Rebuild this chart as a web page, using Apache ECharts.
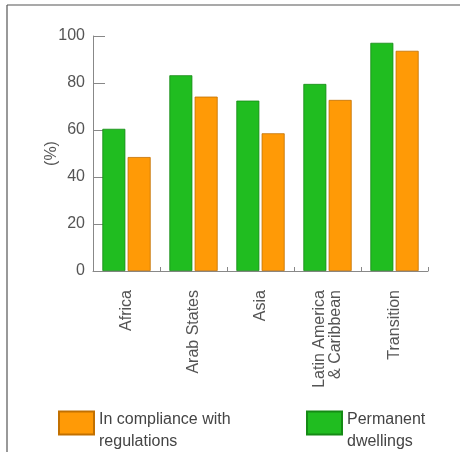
<!DOCTYPE html>
<html>
<head>
<meta charset="utf-8">
<script src="https://cdn.jsdelivr.net/npm/echarts@6/dist/echarts.min.js"></script>
<style>
  html, body { margin: 0; padding: 0; background: #fff; }
  #chart { width: 460px; height: 452px; }
</style>
</head>
<body>
<div id="chart"></div>
<script>
// Regions shown along the x axis
const categories = ['Africa', 'Arab States', 'Asia', 'Latin America\n& Caribbean', 'Transition'];
// Share of permanent dwellings (%)
const permanentDwellings = [60.5, 83.3, 72.5, 79.6, 97.1];
// Share of dwellings in compliance with regulations (%)
const inCompliance = [48.5, 74.2, 58.6, 72.8, 93.7];
// Value axis tick labels
const yTicks = [0, 20, 40, 60, 80, 100];

const GREEN = '#20bd20';
const ORANGE = '#ff9a06';
const nameGreen = 'Permanent\ndwellings';
const nameOrange = 'In compliance with\nregulations';

const chart = echarts.init(document.getElementById('chart'), null, { renderer: 'canvas' });

const labelFont = { fontFamily: 'Liberation Sans, Arial, sans-serif', fontSize: 16, color: '#555' };

// Legend text sits a little lower than its swatch: a short blank first line shifts it down
const legendBase = {
  itemWidth: 35, itemHeight: 23, itemGap: 9,
  icon: 'rect',
  formatter: name => '{s| }\n' + name.split('\n').map(l => '{t|' + l + '}').join('\n'),
  textStyle: {
    rich: {
      s: { fontSize: 8, lineHeight: 15 },
      t: Object.assign({}, labelFont, { color: '#444', lineHeight: 22 })
    }
  }
};

chart.setOption({
  animation: false,
  backgroundColor: '#fff',
  grid: { left: 93, top: 36, width: 335, height: 235, containLabel: false },
  xAxis: {
    type: 'category',
    data: categories,
    axisLine: { lineStyle: { color: '#888', width: 1 } },
    axisTick: { show: true, alignWithLabel: false, inside: true, length: 4, lineStyle: { color: '#888' } },
    axisLabel: Object.assign({ rotate: 90, margin: 19, interval: 0, lineHeight: 16 }, labelFont)
  },
  yAxis: {
    type: 'value',
    min: yTicks[0],
    max: yTicks[yTicks.length - 1],
    interval: 20,
    name: '(%)',
    nameLocation: 'middle',
    nameGap: 33,
    nameRotate: 90,
    nameMoveOverlap: false,
    nameTextStyle: labelFont,
    axisLine: { show: true, lineStyle: { color: '#888', width: 1 } },
    axisTick: { show: true, inside: true, length: 12, lineStyle: { color: '#888' } },
    splitLine: { show: false },
    axisLabel: Object.assign({ margin: 8, formatter: v => yTicks.includes(v) ? String(v) : '' }, labelFont)
  },
  legend: [
    Object.assign({ data: [nameOrange], left: 53, top: 392 }, legendBase),
    Object.assign({ data: [nameGreen], left: 301, top: 392 }, legendBase)
  ],
  series: [
    {
      name: nameGreen,
      type: 'bar',
      data: permanentDwellings,
      barWidth: 23,
      barGap: '10%',
      itemStyle: { color: GREEN, borderColor: '#158a15', borderWidth: 0.8 }
    },
    {
      name: nameOrange,
      type: 'bar',
      data: inCompliance,
      barWidth: 23,
      itemStyle: { color: ORANGE, borderColor: '#c27000', borderWidth: 0.8 }
    }
  ],
  graphic: [
    { type: 'line', shape: { x1: 7, y1: 5, x2: 460, y2: 5 }, style: { stroke: '#555', lineWidth: 1.2 } },
    { type: 'line', shape: { x1: 7, y1: 5, x2: 7, y2: 452 }, style: { stroke: '#555', lineWidth: 1.2 } }
  ]
});
</script>
</body>
</html>
